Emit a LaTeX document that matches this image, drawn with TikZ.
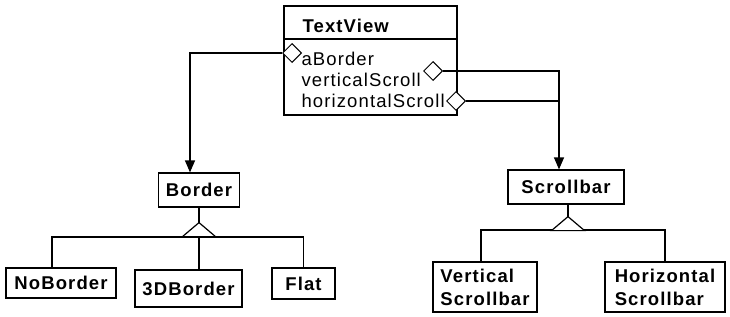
\documentclass[tikz,border=0pt]{standalone}
\usepackage{fontspec}
\setmainfont{Liberation Sans}[LetterSpace=6]
\usetikzlibrary{shapes.geometric,arrows.meta}
\begin{document}
\begin{tikzpicture}[x=1pt,y=-1pt, line width=1.2pt,
  cls/.style={draw, inner sep=0pt, align=left,
    font=\fontsize{18.5}{23}\selectfont\bfseries},
  attr/.style={anchor=base west, inner sep=0pt,
    font=\fontsize{18.5}{20}\selectfont},
  agg/.style={draw, diamond, fill=white, inner sep=0pt,
    minimum width=19pt, minimum height=19pt, line width=1pt},
  ref/.style={-{Triangle[length=12pt,width=10pt]}},
  gen/.style={draw, fill=white}
]
\useasboundingbox (0,0) rectangle (730,316);

% TextView class with its attributes
\node[draw, minimum width=173pt, minimum height=109pt] (tv) at (370.5,60.5) {};
\draw (tv.west |- 0,39) -- (tv.east |- 0,39);
\node[attr, font=\fontsize{18.5}{20}\selectfont\bfseries] (tvname) at (302,32) {TextView};
\node[attr] (aborder) at (301,65) {aBorder};
\node[attr] (vscroll) at (301,86) {verticalScroll};
\node[attr] (hscroll) at (301,107) {horizontalScroll};

% aggregation diamonds
\node[agg] (dA) at (292,53) {};
\node[agg] (dV) at (433,71) {};
\node[agg] (dH) at (456,101) {};

% classes
\node[cls, minimum width=81pt, minimum height=34pt] (border) at (199,190) {Border};
\node[cls, minimum width=116pt, minimum height=34pt] (scroll) at (566,187) {Scrollbar};
\node[cls, minimum width=110pt, minimum height=30pt] (noborder) at (61,283) {NoBorder};
\node[cls, minimum width=107pt, minimum height=37pt] (threed) at (188.5,288.5) {3DBorder};
\node[cls, minimum width=63pt, minimum height=31pt] (flat) at (303.5,283.5) {Flat};
\node[cls, minimum width=104pt, minimum height=50pt] (vsb) at (485,287) {Vertical\\Scrollbar};
\node[cls, minimum width=120pt, minimum height=50pt] (hsb) at (665,287) {Horizontal\\Scrollbar};

% references from TextView
\coordinate (bIn) at ([xshift=-9pt]border.north);
\coordinate (sIn) at ([xshift=-7pt]scroll.north);
\draw[ref] (dA.west) -| (bIn);
\draw[ref] (dV.east) -| (sIn);
\draw (dH.east) -- (dH.east -| sIn);

% Border hierarchy
\coordinate (bTri) at ([yshift=-15pt]border.south);
\draw (border.south) -- (bTri);
\draw (noborder.north -| 52,0) |- (flat.north |- 0,237) -- (flat.north);
\draw (threed.north -| bTri) -- (bTri |- 0,237);
\draw[gen] (bTri) -- ++(-16.5,14) -- ++(33,0) -- cycle;

% Scrollbar hierarchy
\coordinate (sTri) at ([xshift=2pt,yshift=-12pt]scroll.south);
\draw ([xshift=2pt]scroll.south) -- (sTri);
\draw (vsb.north -| 481,0) |- (hsb.north |- 0,230) -- (hsb.north);
\draw[gen] (sTri) -- ++(-16.5,14) -- ++(33,0) -- cycle;
\end{tikzpicture}
\end{document}
